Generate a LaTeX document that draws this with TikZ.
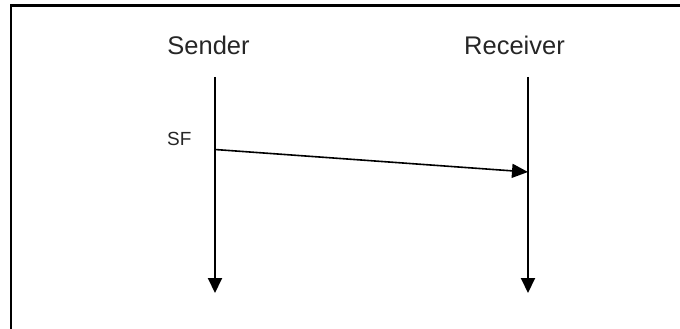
\documentclass[tikz,border=0pt]{standalone}
\usepackage{fontspec}
\setmainfont{Liberation Sans}
\usetikzlibrary{arrows.meta}
\begin{document}
\begin{tikzpicture}[x=1pt,y=-1pt,
  lbl/.style={inner sep=0pt,anchor=base,text=black!85,font=\fontsize{25.5}{28}\selectfont},
  small/.style={inner sep=0pt,anchor=base west,text=black!85,font=\fontsize{19}{22}\selectfont},
  life/.style={line width=2pt,-{Triangle[length=15pt,width=14pt]}},
  msg/.style={line width=1.6pt,-{Triangle[length=16pt,width=14pt]}},
  frame/.style={line width=2.5pt}]
\useasboundingbox (0,0) rectangle (680,329);
% frame (only top and left edges visible)
\draw[frame] (11,340) -- (11,5.5) -- (690,5.5);
% titles
\node[lbl] (sender) at (208.5,54.5) {Sender};
\node[lbl] (receiver) at (514.5,54.5) {Receiver};
\node[small] (sf) at (167,145) {SF};
% lifelines
\coordinate (stop) at (215,77);
\coordinate (sbot) at (215,293);
\coordinate (rtop) at (528,77);
\coordinate (rbot) at (528,293);
\coordinate (msgfrom) at (215,149.5);
\coordinate (msgto) at (528,172);
\draw[life] (stop) -- (sbot);
\draw[life] (rtop) -- (rbot);
\draw[msg] (msgfrom) -- (msgto);
\end{tikzpicture}
\end{document}
